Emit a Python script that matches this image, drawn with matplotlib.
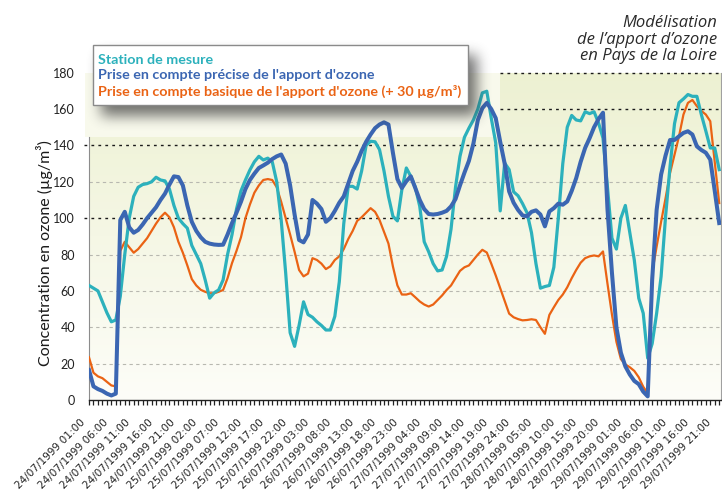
import numpy as np
import matplotlib
matplotlib.use("Agg")
import matplotlib.pyplot as plt
from matplotlib.ticker import MultipleLocator, FixedLocator
from matplotlib.patches import Rectangle
from matplotlib.transforms import ScaledTranslation

# ---------------- data ----------------
tick_labels = [
    "24/07/1999 01:00", "24/07/1999 06:00", "24/07/1999 11:00", "24/07/1999 16:00", "24/07/1999 21:00",
    "25/07/1999 02:00", "25/07/1999 07:00", "25/07/1999 12:00", "25/07/1999 17:00", "25/07/1999 22:00",
    "26/07/1999 03:00", "26/07/1999 08:00", "26/07/1999 13:00", "26/07/1999 18:00", "26/07/1999 23:00",
    "27/07/1999 04:00", "27/07/1999 09:00", "27/07/1999 14:00", "27/07/1999 19:00", "27/07/1999 24:00",
    "28/07/1999 05:00", "28/07/1999 10:00", "28/07/1999 15:00", "28/07/1999 20:00",
    "29/07/1999 01:00", "29/07/1999 06:00", "29/07/1999 11:00", "29/07/1999 16:00", "29/07/1999 21:00",
]

station = [
    63, 61.5, 60, 54, 48, 43, 44, 57, 80, 100,
    112, 117, 118.5, 119, 120, 122.5, 121, 120.5, 116, 107,
    100, 97, 94.5, 85, 80, 75, 66, 56, 59, 60.5,
    66, 80, 91, 105, 115, 121, 126.5, 131, 134, 132,
    133, 131, 120, 99, 70, 37, 29.5, 41, 54, 47,
    45.5, 43, 41, 38.5, 38.5, 46, 65, 97, 117.5, 117.5,
    116, 126, 140, 142.3, 142, 137.7, 126, 112, 101, 98.5,
    115.7, 127.6, 123, 117, 106.5, 87, 81.5, 75, 71, 71.5,
    79, 94, 117, 134, 144.5, 149.5, 154, 160, 168.9, 169.8,
    155, 141.4, 104, 130.3, 126.7, 114.5, 112.3, 108, 103, 92,
    75, 61.5, 62.4, 63, 73, 100, 130, 150, 156.5, 154,
    153.5, 158.5, 157.5, 158.5, 152.4, 144, 117, 89, 83, 100,
    107, 92, 77, 56, 47.7, 23, 31, 47.7, 68, 101,
    128.5, 152, 163.5, 165.6, 168, 167, 167, 157, 148, 138.6,
    138.6, 126.7,
]

precise = [
    16.5, 7.5, 6, 5, 3.5, 2.5, 3.5, 99, 103.5, 95,
    92, 93.5, 96.5, 100, 103, 106, 110, 113.5, 118.5, 123,
    122.6, 118, 107, 98, 93, 89.5, 87, 86, 85.5, 85.3,
    85.4, 91, 97.3, 103, 109, 116, 121, 124.5, 127.6, 129,
    130.5, 132.5, 134, 135, 130, 118, 102, 88, 86.7, 91,
    110, 108, 105, 98, 100, 104, 108.5, 112, 119, 126,
    131, 137, 142, 146, 149.5, 151.5, 152.7, 151.5, 135.9, 121.5,
    116.6, 120.3, 123, 116.6, 110, 105, 102.3, 102, 102.3, 103,
    104, 106.5, 110.5, 118, 125, 131.5, 141, 154, 160.5, 163.4,
    160, 155, 142, 130, 114.7, 108.5, 104.5, 101.5, 101, 103.5,
    104.3, 102, 95.5, 103.7, 105.5, 108, 107.4, 109.2, 115, 122,
    131, 138.6, 144, 150, 154.5, 158, 105, 70, 40, 26,
    18.5, 14, 10.5, 8.7, 4.6, 2, 66, 104.6, 124, 134.5,
    143, 143, 145, 146.9, 147.8, 146, 139.5, 137.5, 136, 132.2,
    115, 97.3,
]

basique = [
    23.5, 15, 13, 12, 10, 8, 7.5, 82, 87, 84,
    81, 83, 86, 89, 93, 97, 100.5, 103, 100.5, 95,
    87, 81, 74, 66.5, 63, 60.6, 59.5, 58.7, 58.7, 59.5,
    60.5, 67, 75.3, 82, 89.5, 100, 107.5, 114, 118, 121,
    121.5, 121, 117, 109, 100, 91, 81.5, 71.5, 68, 69.5,
    78, 77, 75, 72, 73.5, 77, 79, 83, 88.5, 93,
    98.5, 100.5, 103, 105.5, 103.5, 99, 92.5, 86, 73.4, 63,
    58, 58, 58.7, 56.5, 54.2, 52.5, 51.4, 52.5, 55, 57.5,
    60.5, 63, 67, 71, 73, 74, 77, 80, 82.6, 81.1,
    75, 68.5, 61.5, 54.5, 47.5, 45.5, 44.5, 43.8, 44, 44.4,
    44, 40, 36.4, 46.8, 51, 55, 58, 62, 67, 71.5,
    75.5, 78, 79, 79.5, 79, 81.7, 64, 47, 32, 22.5,
    19.6, 18, 16, 12.5, 7.3, 3.7, 70, 84.4, 98, 111,
    124.8, 135, 145, 157, 163.4, 165, 161.6, 159, 157, 153.3,
    131, 108.3,
]

series_names = [
    "Station de mesure",
    "Prise en compte précise de l'apport d'ozone",
    "Prise en compte basique de l'apport d'ozone (+ 30 µg/m³)",
]
colors = ["#2cb1bc", "#3b66b2", "#ea6314"]

# ---------------- figure ----------------
W, H = 722, 492
fig = plt.figure(figsize=(W / 100, H / 100), dpi=100)
fig.patch.set_facecolor("white")

ax_left, ax_right, ax_top, ax_bot = 89, 721, 72.7, 400
ax = fig.add_axes([ax_left / W, 1 - ax_bot / H, (ax_right - ax_left) / W, (ax_bot - ax_top) / H])

x = np.arange(len(station))
xmax = 141.4
px_per_x = (ax_right - ax_left) / xmax
px_per_y = (ax_bot - ax_top) / 180

# background gradient
top = np.array([237, 241, 210]) / 255
bot = np.array([253, 253, 248]) / 255
t = np.linspace(0, 1, 256)[:, None]
grad = (top * (1 - t) + bot * t)[:, None, :]
ax.imshow(grad, extent=(0, xmax, 0, 180), aspect="auto", origin="upper", zorder=0)

# lighter zone behind the legend (top-left of plot area)
zx0 = (85 - ax_left) / px_per_x
zx1 = (500 - ax_left) / px_per_x
zy0 = (ax_bot - 137) / px_per_y
ax.add_patch(Rectangle((zx0, zy0), zx1 - zx0, 180 - zy0, facecolor=(0.972, 0.976, 0.925),
                       edgecolor="none", zorder=0.5, clip_on=False))

# grid lines
for yv in [20, 40, 60, 80, 120]:
    ax.axhline(yv, color="#b8b8b0", lw=0.8, ls=(0, (3, 3)), zorder=1)
for yv in [100, 140]:
    ax.axhline(yv, xmin=-0.008, xmax=1, color="#1a1a1a", lw=1.0, ls=(0, (2, 3)), zorder=1, clip_on=False)
for yv in [160, 180]:
    ax.axhline(yv, xmin=(500 - ax_left) / (ax_right - ax_left), xmax=1, color="#1a1a1a",
               lw=1.0, ls=(0, (2, 3)), zorder=1, clip_on=False)

ax.plot(x, station, color=colors[0], lw=2.3, zorder=4, label=series_names[0], solid_joinstyle="round")
ax.plot(x, precise, color=colors[1], lw=2.9, zorder=5, label=series_names[1], solid_joinstyle="round")
ax.plot(x, basique, color=colors[2], lw=1.6, zorder=3, label=series_names[2], solid_joinstyle="round")

ax.set_xlim(0, xmax)
ax.set_ylim(0, 180)

# spines
ax.spines["top"].set_visible(False)
ax.spines["left"].set_color("#8c8c8c")
ax.spines["left"].set_bounds(0, zy0)
ax.spines["right"].set_color("#a0a0a0")
ax.spines["right"].set_linewidth(0.8)
ax.spines["bottom"].set_color("#222222")
ax.spines["bottom"].set_linewidth(1.0)

# ticks
ax.yaxis.set_major_locator(MultipleLocator(20))
ax.tick_params(axis="y", length=0, pad=10, labelsize=9, labelcolor="#222222")
for lab in ax.get_yticklabels():
    lab.set_fontfamily("Lato")

ax.xaxis.set_major_locator(FixedLocator(np.arange(0, len(tick_labels) * 5, 5)))
ax.xaxis.set_minor_locator(MultipleLocator(1))
ax.set_xticklabels(tick_labels, rotation=45, ha="right", rotation_mode="anchor",
                   fontsize=7.6, color="#222222", fontfamily="DejaVu Sans")
ax.tick_params(axis="x", which="both", direction="out", length=3.5, width=0.9, color="#222222", pad=4)
shift = ScaledTranslation(-0.085, -0.07, fig.dpi_scale_trans)
for lab in ax.get_xticklabels():
    lab.set_transform(lab.get_transform() + shift)

ax.set_ylabel("Concentration en ozone (µg/m³)", fontsize=11.5, fontfamily="Lato", color="#1a1a1a")
ax.yaxis.set_label_coords(-0.07, 0.45)
ax.yaxis.label.set_va("center")

# ---------------- overlay: legend box with shadow, title ----------------
ov = fig.add_axes([0, 0, 1, 1], zorder=10)
ov.set_xlim(0, W)
ov.set_ylim(H, 0)
ov.axis("off")
ov.patch.set_alpha(0)

bx0, by0, bx1, by1 = 93, 45, 468, 105
yy, xx = np.mgrid[0:H, 0:W]
offx, offy = 8, 10
mask = ((xx >= bx0 + offx) & (xx <= bx1 + offx) & (yy >= by0 + offy) & (yy <= by1 + offy)).astype(float)


def blur1d(a, r, axis):
    k = 2 * r + 1
    pad = [(0, 0), (0, 0)]
    pad[axis] = (r + 1, r)
    p = np.pad(a, pad, mode="edge")
    c = np.cumsum(p, axis=axis)
    if axis == 0:
        return (c[k:] - c[:-k]) / k
    return (c[:, k:] - c[:, :-k]) / k


sh = mask
for _ in range(3):
    sh = blur1d(sh, 6, 0)
    sh = blur1d(sh, 6, 1)
rgba = np.zeros((H, W, 4))
rgba[..., :3] = 0.22
rgba[..., 3] = 0.7 * sh
ov.imshow(rgba, extent=(0, W, H, 0), zorder=1, interpolation="bilinear", aspect="auto")

ov.add_patch(Rectangle((bx0, by0), bx1 - bx0, by1 - by0, facecolor="white",
                       edgecolor="#8a8a8a", lw=1.0, zorder=2))

handles, labels = ax.get_legend_handles_labels()
leg = ov.legend(handles, labels, loc="upper left", bbox_to_anchor=(98 / W, 1 - 53.5 / H),
                bbox_transform=fig.transFigure, frameon=False, handlelength=0, handletextpad=0,
                borderpad=0, borderaxespad=0, labelspacing=0.27, labelcolor="linecolor",
                prop={"family": "Lato", "weight": "bold", "size": 10.3})
for h in leg.legend_handles:
    h.set_visible(False)
leg.set_zorder(3)

ov.text(717, 15, "Modélisation\nde l’apport d’ozone\nen Pays de la Loire", ha="right", va="top",
        multialignment="right", fontsize=12, fontstyle="italic", fontfamily="Open Sans",
        color="#2a2a2a", linespacing=1.06, zorder=3)

fig.savefig("out.png", dpi=100, facecolor="white")
